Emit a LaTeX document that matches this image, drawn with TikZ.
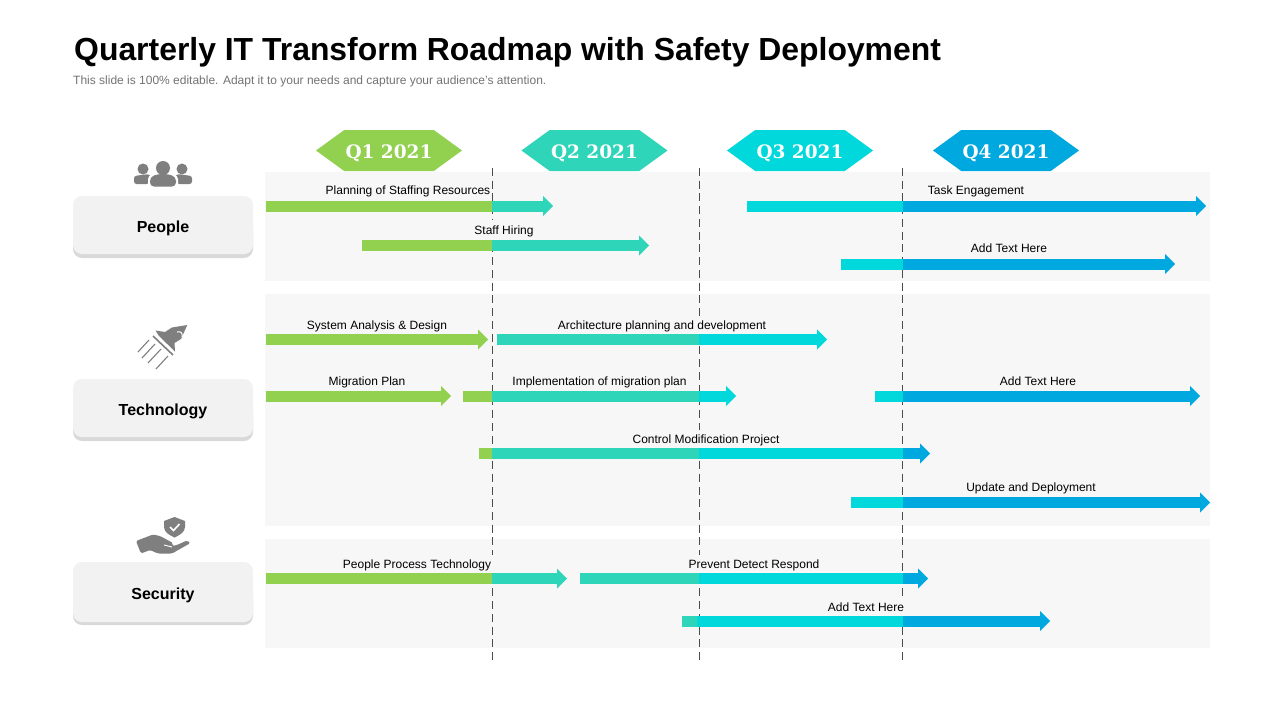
\documentclass[tikz,border=0pt]{standalone}
\usepackage{fontspec}
\setmainfont{Liberation Sans}
\newfontfamily\quarterfont{DejaVu Serif}
\usetikzlibrary{shapes.symbols}
\definecolor{qgreen}{HTML}{92D050}
\definecolor{qteal}{HTML}{2FD5B8}
\definecolor{qcyan}{HTML}{00D8DC}
\definecolor{qblue}{HTML}{00A8E0}
\definecolor{panelgray}{HTML}{F7F7F7}
\definecolor{boxgray}{HTML}{F2F2F2}
\definecolor{boxshade}{HTML}{D9D9D9}
\definecolor{icongray}{HTML}{7F7F7F}
\tikzset{
    quarter/.style={signal, signal to=west and east, signal pointer angle=72, draw=none,
        minimum width=146pt, minimum height=41pt, inner sep=0pt, text=white,
        text height=15.4pt, text depth=0pt,
        font=\quarterfont\bfseries\fontsize{18.5}{20}\selectfont},
    barlabel/.style={anchor=base, fill=panelgray, inner xsep=2pt, inner ysep=4pt,
        text height=10pt, text depth=3pt, font=\fontsize{12}{14}\selectfont},
    catbox/.style={rounded corners=9pt, minimum width=180pt, minimum height=58pt, fill=boxgray,
        inner sep=0pt, text height=14pt, text depth=0pt, font=\bfseries\fontsize{16}{18}\selectfont},
    catshade/.style={rounded corners=9pt, fill=boxshade},
    panel/.style={fill=panelgray},
    quarterline/.style={draw=black!70, line width=0.9pt, dash pattern=on 8pt off 4.74pt},
}
\newcommand{\barpart}[4]{\fill[#4] (#1,#3-5.5) rectangle (#2,#3+5.5);}
\newcommand{\barhead}[3]{\fill[#3] (#1-10,#2-10) -- (#1,#2) -- (#1-10,#2+10) -- cycle;}
\begin{document}
\begin{tikzpicture}[x=1pt, y=-1pt]
    \useasboundingbox (0,0) rectangle (1280,720);
    \fill[white] (0,0) rectangle (1280,720);

    % title
    \node (title) [anchor=base west, inner sep=0pt, font=\bfseries\fontsize{31.9}{36}\selectfont] at (74,60) {Quarterly IT Transform Roadmap with Safety Deployment};
    \node (subtitle) [anchor=base west, inner sep=0pt, text=black!55, font=\fontsize{12}{14}\selectfont] at (73,84) {This slide is 100\% editable. Adapt it to your needs and capture your audience's attention.};

    % panels
    \fill[panel] (265,172) rectangle (1210,281);
    \fill[panel] (265,294) rectangle (1210,526);
    \fill[panel] (265,539) rectangle (1210,648);

    % quarter lines
    \foreach \i/\x in {1/492, 2/699, 3/902} {
        \coordinate (top\i) at (\x,168);
        \coordinate (bot\i) at (\x,660);
        \draw[quarterline] (top\i) -- (bot\i);
    }

    % quarters
    \node (q1) [quarter, fill=qgreen] at (389,150.5) {Q1 2021};
    \node (q2) [quarter, fill=qteal] at (594.5,150.5) {Q2 2021};
    \node (q3) [quarter, fill=qcyan] at (800,150.5) {Q3 2021};
    \node (q4) [quarter, fill=qblue] at (1006,150.5) {Q4 2021};

    % categories
    \fill[catshade] (73,220) rectangle (253,258);
    \node (people) [catbox] at (163,225) {People};
    \fill[catshade] (73,403) rectangle (253,441);
    \node (technology) [catbox] at (163,408) {Technology};
    \fill[catshade] (73,587) rectangle (253,625);
    \node (security) [catbox, minimum height=60pt] at (163,592) {Security};

    % people icon
    \fill[icongray] (143,169) circle (5.5);
    \fill[icongray] (182,169) circle (5.5);
    \fill[icongray, rounded corners=2.5pt] (134,184) -- (134,176) -- (149,174) -- (152,178) -- (149,184) -- cycle;
    \fill[icongray, rounded corners=2.5pt] (192,184) -- (192,176) -- (177,174) -- (174,178) -- (177,184) -- cycle;
    \fill[white] (163,168) circle (8.5);
    \fill[white, rounded corners=4pt] (148,188) -- (148,175) -- (178,175) -- (178,188) -- cycle;
    \fill[icongray] (163,168) circle (7);
    \fill[icongray, rounded corners=4pt] (150,186.5) -- (150,177) -- (158,174) -- (168,174) -- (176,177) -- (176,186.5) -- cycle;

    % rocket icon
    \fill[icongray] (187.3,325) -- (172,327.5) -- (165,332) -- (155.5,330.5) -- (159,336) -- (175,351.5) -- (174.5,343) -- (181,339) -- cycle;
    \draw[icongray, line width=1.6pt] (153,336) -- (173,355);
    \draw[white, line width=1pt] (177,332) .. controls (181,331) and (183,333) .. (182,337);
    \draw[icongray, line width=1.1pt] (138,352) -- (149,340);
    \draw[icongray, line width=1.1pt] (142,358) -- (155,344);
    \draw[icongray, line width=1.1pt] (148,363) -- (161,349);
    \draw[icongray, line width=1.1pt] (156,369) -- (168,356);

    % security icon
    \fill[icongray] (174.5,517) -- (185,521) -- (185,527) .. controls (185,532) and (180,535) .. (174.5,537.5) .. controls (169,535) and (164,532) .. (164,527) -- (164,521) -- cycle;
    \draw[white, line width=1.6pt] (170,527) -- (173.5,530.5) -- (179.5,524);
    \fill[icongray, rounded corners=1.5pt] (136,541) -- (153,534.5) -- (160,536) -- (173,543) -- (172,546) -- (177,545) -- (187,540.5) -- (190.5,543) -- (172,553.5) -- (158,553.5) -- (150,550) -- (141,553.5) -- cycle;
    \draw[white, line width=0.9pt] (164,545) -- (172,547);

    % labels
    \node (planning) [barlabel] at (408,194) {Planning of Staffing Resources};
    \node (hiring) [barlabel] at (504,234) {Staff Hiring};
    \node (task) [barlabel] at (976,194) {Task Engagement};
    \node (addone) [barlabel] at (1009,252.5) {Add Text Here};
    \node (analysis) [barlabel] at (377,329.5) {System Analysis \& Design};
    \node (architecture) [barlabel] at (662,329.5) {Architecture planning and development};
    \node (migration) [barlabel] at (367,385.5) {Migration Plan};
    \node (implementation) [barlabel] at (599.5,385.5) {Implementation of migration plan};
    \node (addtwo) [barlabel] at (1038,385.5) {Add Text Here};
    \node (control) [barlabel] at (706,443.5) {Control Modification Project};
    \node (update) [barlabel] at (1031,491.5) {Update and Deployment};
    \node (process) [barlabel] at (417,568.5) {People Process Technology};
    \node (prevent) [barlabel] at (754,568.5) {Prevent Detect Respond};
    \node (addthree) [barlabel] at (866,611.5) {Add Text Here};

    % bars, people
    \barpart{266}{492}{206}{qgreen} \barpart{492}{543}{206}{qteal} \barhead{553}{206}{qteal}
    \barpart{362}{492}{245.5}{qgreen} \barpart{492}{639}{245.5}{qteal} \barhead{649}{245.5}{qteal}
    \barpart{747}{903}{206}{qcyan} \barpart{903}{1197}{206}{qblue} \barhead{1206}{206}{qblue}
    \barpart{841}{903}{264}{qcyan} \barpart{903}{1166}{264}{qblue} \barhead{1175}{264}{qblue}

    % bars, technology
    \barpart{266}{478}{339.5}{qgreen} \barhead{488}{339.5}{qgreen}
    \barpart{497}{699}{339.5}{qteal} \barpart{699}{817}{339.5}{qcyan} \barhead{827}{339.5}{qcyan}
    \barpart{266}{441}{396}{qgreen} \barhead{451}{396}{qgreen}
    \barpart{463}{492}{396}{qgreen} \barpart{492}{699}{396}{qteal} \barpart{699}{726}{396}{qcyan} \barhead{736}{396}{qcyan}
    \barpart{875}{903}{396}{qcyan} \barpart{903}{1191}{396}{qblue} \barhead{1200}{396}{qblue}
    \barpart{479}{492}{453.5}{qgreen} \barpart{492}{699}{453.5}{qteal} \barpart{699}{903}{453.5}{qcyan} \barpart{903}{920}{453.5}{qblue} \barhead{930}{453.5}{qblue}
    \barpart{851}{903}{502.5}{qcyan} \barpart{903}{1200}{502.5}{qblue} \barhead{1210}{502.5}{qblue}

    % bars, security
    \barpart{266}{492}{578.5}{qgreen} \barpart{492}{557}{578.5}{qteal} \barhead{567}{578.5}{qteal}
    \barpart{580}{699}{578.5}{qteal} \barpart{699}{903}{578.5}{qcyan} \barpart{903}{918}{578.5}{qblue} \barhead{928}{578.5}{qblue}
    \barpart{682}{697}{621}{qteal} \barpart{697}{903}{621}{qcyan} \barpart{903}{1040}{621}{qblue} \barhead{1050}{621}{qblue}
\end{tikzpicture}
\end{document}
